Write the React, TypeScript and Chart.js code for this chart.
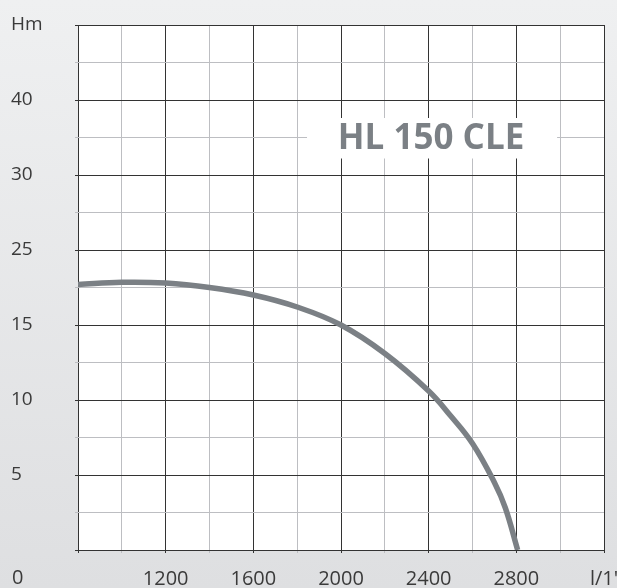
import React, { useEffect, useRef } from "react";
import { Chart, registerables } from "chart.js";

Chart.register(...registerables);

// ---- data ----
const flowValues = [800, 1000, 1200, 1400, 1600, 1800, 2000, 2200, 2400, 2500, 2600, 2700, 2750, 2806];
const headValues = [17.7, 17.85, 17.8, 17.5, 17.0, 16.2, 15.0, 13.1, 10.6, 8.95, 7.1, 4.5, 2.8, 0];

const yTickValues = [0, 5, 10, 15, 20, 25, 30, 35];
const yTickLabels = ["", "5", "10", "15", "25", "30", "40", "Hm"];
const xTickValues = [1200, 1600, 2000, 2400, 2800, 3200];
const xTickLabels = ["1200", "1600", "2000", "2400", "2800", "l/1'"];
const cornerLabel = "0";
const titleText = "HL 150 CLE";

const DARK = "#333333";
const LIGHT = "#bdbec2";
const CURVE = "#7b8085";
const TEXT = "#3a3a3a";

const extrasPlugin = {
  id: "extras",
  beforeDraw(chart: any) {
    const { ctx, chartArea } = chart;
    ctx.save();
    ctx.fillStyle = "#ffffff";
    ctx.fillRect(chartArea.left, chartArea.top, chartArea.right - chartArea.left, chartArea.bottom - chartArea.top);
    ctx.restore();
  },
  beforeDatasetsDraw(chart: any) {
    const { ctx, scales } = chart;
    const x = scales.x;
    const y = scales.y;
    // white box behind title (interrupts grid)
    const x0 = x.getPixelForValue(1845);
    const x1 = x.getPixelForValue(2986);
    const y0 = y.getPixelForValue(28.8);
    const y1 = y.getPixelForValue(26.1);
    ctx.save();
    ctx.fillStyle = "#ffffff";
    ctx.fillRect(x0, y0, x1 - x0, y1 - y0);
    ctx.fillStyle = CURVE;
    ctx.font = "bold 35px 'Open Sans'";
    ctx.textAlign = "center";
    ctx.textBaseline = "middle";
    ctx.fillText(titleText, (x0 + x1) / 2 - 1, (y0 + y1) / 2 + 1);
    ctx.restore();
  },
  afterDraw(chart: any) {
    const { ctx, scales } = chart;
    const y = scales.y;
    const x = scales.x;
    ctx.save();
    ctx.fillStyle = TEXT;
    ctx.font = "20px 'Open Sans'";
    ctx.textAlign = "left";
    ctx.textBaseline = "middle";
    ctx.fillText(cornerLabel, y.left + 1, x.bottom - 10);
    ctx.restore();
  },
};

export default function App() {
  const ref = useRef<HTMLCanvasElement | null>(null);

  useEffect(() => {
    if (!ref.current) return;
    const chart = new Chart(ref.current, {
      type: "line",
      data: {
        datasets: [
          {
            data: flowValues.map((v, i) => ({ x: v, y: headValues[i] })),
            borderColor: CURVE,
            borderWidth: 5.5,
            pointRadius: 0,
            fill: false,
            tension: 0.4,
          },
        ],
      },
      options: {
        animation: false,
        responsive: false,
        maintainAspectRatio: false,
        layout: { padding: { left: 11, right: 13, top: 25, bottom: 0 } },
        plugins: { legend: { display: false }, tooltip: { enabled: false } },
        scales: {
          x: {
            type: "linear",
            min: 800,
            max: 3200,
            border: { display: false },
            grid: {
              color: (c: any) => (((c.tick?.value ?? 0) - 800) % 400 === 0 ? DARK : LIGHT),
              lineWidth: 1,
              tickLength: 3,
            },
            ticks: {
              stepSize: 200,
              autoSkip: false,
              maxRotation: 0,
              padding: 14,
              color: TEXT,
              font: { family: "'Open Sans'", size: 20 },
              callback: (v: any) => {
                const i = xTickValues.indexOf(Number(v));
                return i >= 0 ? xTickLabels[i] : "";
              },
            },
            afterFit: (s: any) => {
              s.height = 38;
              s.paddingLeft = 0;
              s.paddingRight = 0;
            },
          },
          y: {
            type: "linear",
            min: 0,
            max: 35,
            border: { display: false },
            grid: {
              color: (c: any) => ((c.tick?.value ?? 0) % 5 === 0 ? DARK : LIGHT),
              lineWidth: 1,
              tickLength: 3,
            },
            ticks: {
              stepSize: 2.5,
              autoSkip: false,
              crossAlign: "far",
              color: TEXT,
              font: { family: "'Open Sans'", size: 19 },
              callback: (v: any) => {
                const i = yTickValues.indexOf(Number(v));
                return i >= 0 ? yTickLabels[i] : "";
              },
            },
            afterFit: (s: any) => {
              s.width = 67;
              s.paddingTop = 0;
              s.paddingBottom = 0;
            },
          },
        },
      },
      plugins: [extrasPlugin],
    } as any);
    return () => chart.destroy();
  }, []);

  return (
    <div
      style={{
        position: "fixed",
        left: 0,
        top: 0,
        width: 617,
        height: 588,
        background: "linear-gradient(180deg, #eff0f1 0%, #dedfe1 100%)",
      }}
    >
      <canvas ref={ref} width={617} height={588} style={{ display: "block", width: 617, height: 588 }} />
    </div>
  );
}
